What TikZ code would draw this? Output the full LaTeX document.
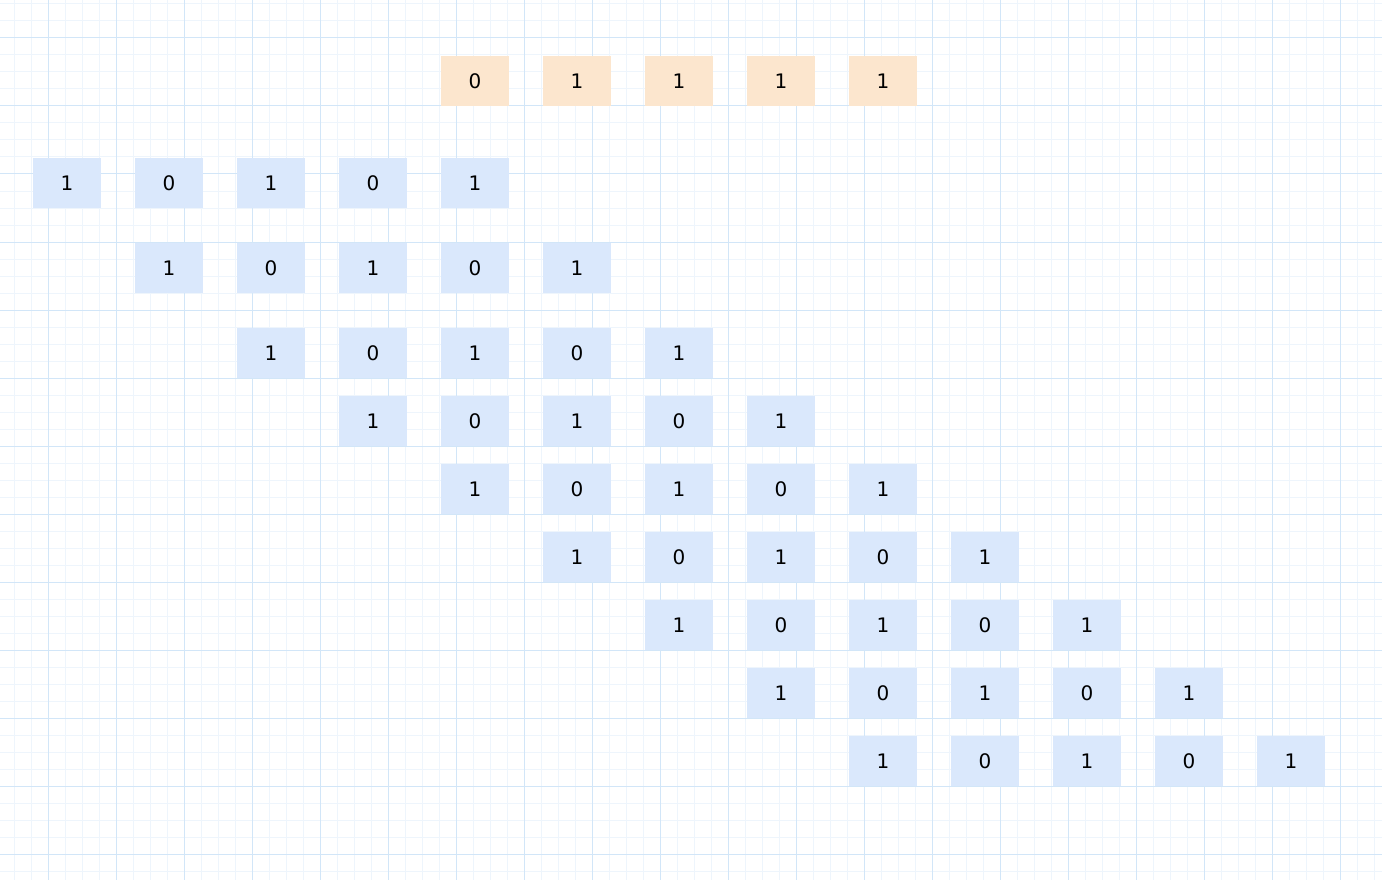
\documentclass[tikz,border=0pt]{standalone}
\usepackage{fontspec}
\setmainfont{DejaVu Sans}
\definecolor{minorgrid}{HTML}{EEF5FC}
\definecolor{majorgrid}{HTML}{D2E6F8}
\definecolor{bluefill}{HTML}{DAE8FC}
\definecolor{orangefill}{HTML}{FCE6CE}
\newcommand{\celltext}[1]{\raisebox{-2pt}{#1}}
\tikzset{
  cellbox/.style={rectangle, minimum width=68pt, minimum height=50pt, inner sep=0pt, font=\fontsize{20}{20}\selectfont},
  bluecell/.style={cellbox, fill=bluefill},
  orangecell/.style={cellbox, fill=orangefill},
  minorline/.style={draw=minorgrid, line width=1pt},
  majorline/.style={draw=majorgrid, line width=1pt}
}
\begin{document}
\begin{tikzpicture}[x=1pt,y=-1pt]
\useasboundingbox (0,0) rectangle (1382,880);
\fill[white] (0,0) rectangle (1382,880);
% minor grid
\foreach \i in {0,...,81} {\draw[minorline] (14+17*\i,0) -- (14+17*\i,880);}
\foreach \j in {0,...,52} {\draw[minorline] (0,4+17*\j) -- (1382,4+17*\j);}
% major grid
\foreach \i in {0,...,20} {\draw[majorline] (48+68*\i,0) -- (48+68*\i,880);}
\foreach \j in {0,...,12} {\draw[majorline] (0,38+68*\j) -- (1382,38+68*\j);}
% top orange row
\node[orangecell] (o1) at (475,81) {\celltext{0}};
\node[orangecell] (o2) at (577,81) {\celltext{1}};
\node[orangecell] (o3) at (679,81) {\celltext{1}};
\node[orangecell] (o4) at (781,81) {\celltext{1}};
\node[orangecell] (o5) at (883,81) {\celltext{1}};
% blue rows
\foreach \r/\y in {1/183,2/268,3/353,4/421,5/489,6/557,7/625,8/693,9/761} {
  \foreach \c/\v in {1/1,2/0,3/1,4/0,5/1} {
    \node[bluecell] (b\r-\c) at ({67+102*(\r-1)+102*(\c-1)},\y) {\celltext{\v}};
  }
}
\end{tikzpicture}
\end{document}
